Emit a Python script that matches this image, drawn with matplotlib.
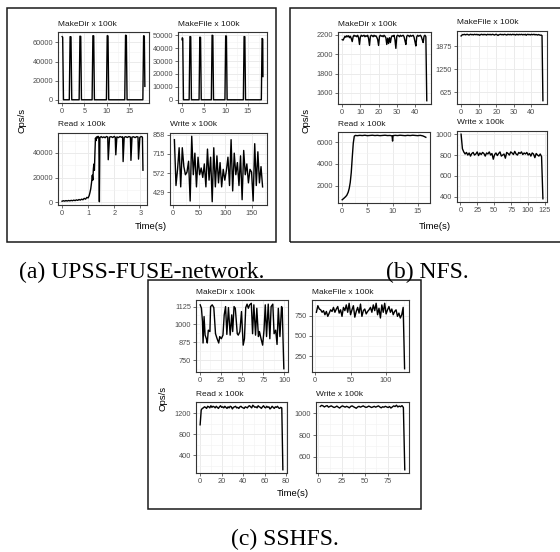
import numpy as np
import matplotlib
matplotlib.use("Agg")
import matplotlib.pyplot as plt
from matplotlib.patches import Rectangle
from matplotlib.ticker import AutoMinorLocator

plt.rcParams['font.family'] = ['Liberation Sans', 'DejaVu Sans']

# ---------------- data: (a) UPSS-FUSE-network ----------------
a_mkdir_t = [0.0, 0.12, 0.3, 1.6, 1.78, 1.98, 2.15, 3.8, 3.98, 4.16, 4.32, 6.7, 6.88, 7.06, 7.22,
             9.9, 10.08, 10.26, 10.42, 14.0, 14.18, 14.36, 14.52, 18.05, 18.22, 18.38, 18.5]
a_mkdir_v = [66000, 65500, 0, 0, 66000, 65800, 0, 0, 66500, 66300, 0, 0, 67000, 66800, 0,
             0, 67000, 66700, 0, 0, 67500, 67200, 0, 0, 67000, 66500, 14000]

a_mkfile_t = [0.0, 0.06, 0.16, 0.32, 1.62, 1.8, 1.98, 2.14, 3.88, 4.05, 4.22, 4.38, 6.68, 6.85,
              7.02, 7.18, 9.78, 9.95, 10.12, 10.28, 13.98, 14.15, 14.32, 14.48, 18.08, 18.25, 18.4, 18.45]
a_mkfile_v = [46500, 48000, 47500, 0, 0, 49000, 48800, 0, 0, 48500, 48300, 0, 0, 50000,
              49800, 0, 0, 49500, 49300, 0, 0, 49000, 48800, 0, 0, 47500, 47000, 18000]

a_read_t = [0.0, 0.05, 0.1, 0.15, 0.2, 0.25, 0.3, 0.35, 0.4, 0.45, 0.5, 0.55, 0.6, 0.65, 0.7,
            0.75, 0.8, 0.85, 0.9, 0.95, 1.0, 1.04, 1.07, 1.1, 1.13, 1.16, 1.18, 1.2, 1.22, 1.24,
            1.26, 1.28, 1.3, 1.32, 1.35, 1.38, 1.41, 1.43, 1.45, 1.5, 1.55, 1.6, 1.65, 1.7, 1.75,
            1.77, 1.82, 1.88, 1.94, 2.0, 2.04, 2.06, 2.1, 2.16, 2.22, 2.28, 2.32, 2.34, 2.38, 2.44,
            2.5, 2.56, 2.62, 2.64, 2.68, 2.74, 2.8, 2.86, 2.91, 2.93, 2.98, 3.04, 3.08, 3.1]
a_read_v = [900, 1300, 1000, 1400, 1100, 1500, 1200, 1600, 1300, 1800, 1400, 2000, 1600, 2300, 1800,
            2600, 2100, 3200, 2600, 4000, 3600, 5500, 8000, 11000, 16000, 22000, 18000, 27000, 31000, 26000,
            40000, 52000, 50000, 53000, 52000, 53500, 52500, 500, 52500, 53200, 52400, 53000, 52300, 53300, 52900,
            34500, 52800, 53200, 52500, 53400, 52600, 38500, 53000, 52400, 53300, 52700, 53100, 33000, 52600, 53200,
            52500, 53300, 52800, 34000, 52800, 53100, 52400, 53200, 52900, 35000, 52700, 53300, 52800, 26000]

a_write_t = np.arange(3, 172, 3)
a_write_v = [820, 480, 600, 760, 470, 760, 620, 560, 580, 660, 365, 845, 560, 720, 470, 690, 560, 610,
             540, 640, 470, 750, 520, 690, 360, 760, 470, 700, 500, 650, 470, 600, 520, 590, 690, 480,
             820, 440, 720, 560, 650, 480, 700, 375, 740, 560, 640, 500, 600, 580, 365, 790, 480, 730,
             500, 620, 470]

# ---------------- data: (b) NFS ----------------
b_mkdir_t = np.arange(0, 47, 0.5)
b_mkdir_v = [2150, 2145, 2165, 2185, 2175, 2190, 2180, 2190, 2170, 2185, 2160, 2130, 2180, 2195, 2185,
             2190, 2180, 2195, 2170, 2100, 2180, 2195, 2185, 2190, 2195, 2180, 2190, 2185, 2195, 2160,
             2090, 2185, 2195, 2190, 2180, 2195, 2185, 2190, 2175, 2150, 2090, 2185, 2195, 2185, 2190,
             2180, 2195, 2185, 2170, 2100, 2165, 2110, 2170, 2120, 2175, 2190, 2185, 2195, 2150, 2060,
             2185, 2195, 2190, 2180, 2195, 2185, 2190, 2195, 2180, 2140, 2100, 2185, 2195, 2190, 2180,
             2195, 2185, 2190, 2195, 2175, 2130, 2085, 2180, 2195, 2185, 2190, 2195, 2180, 2150, 2120,
             2185, 2195, 2180, 1520]

b_mkfile_t = np.arange(0, 47, 0.5)
b_mkfile_v = [2150, 2175, 2190, 2185, 2195, 2180, 2190, 2195, 2185, 2175, 2190, 2195, 2185, 2190, 2180,
              2195, 2190, 2185, 2195, 2180, 2190, 2170, 2185, 2195, 2190, 2180, 2195, 2185, 2190, 2175,
              2195, 2190, 2185, 2195, 2180, 2190, 2195, 2185, 2175, 2190, 2195, 2180, 2165, 2185, 2190,
              2195, 2185, 2190, 2180, 2195, 2190, 2185, 2175, 2195, 2190, 2185, 2195, 2180, 2190, 2195,
              2185, 2190, 2175, 2195, 2190, 2180, 2195, 2185, 2190, 2195, 2180, 2190, 2185, 2195, 2170,
              2190, 2195, 2185, 2190, 2180, 2195, 2185, 2190, 2195, 2180, 2190, 2185, 2175, 2190, 2180,
              2170, 2175, 2160, 390]

b_read_t = [0.0, 0.3, 0.6, 0.9, 1.2, 1.4, 1.6, 1.8, 2.0, 2.2, 2.4, 2.6, 3.0, 3.5, 4.0, 4.5, 5.0, 5.5,
            6.0, 6.5, 7.0, 7.5, 8.0, 8.5, 9.0, 9.5, 9.9, 10.0, 10.1, 10.5, 11.0, 11.5, 12.0, 12.5, 13.0,
            13.5, 14.0, 14.5, 15.0, 15.5, 16.0, 16.3, 16.6]
b_read_v = [700, 820, 950, 1100, 1400, 1750, 2300, 3200, 4600, 5900, 6550, 6620, 6600, 6630, 6610, 6640,
            6600, 6620, 6640, 6610, 6630, 6600, 6620, 6640, 6610, 6620, 6580, 6100, 6600, 6630, 6610,
            6640, 6620, 6600, 6630, 6610, 6640, 6620, 6600, 6630, 6580, 6520, 6450]

b_write_t = np.linspace(1, 122, 62)
b_write_v = [1000, 860, 830, 810, 825, 800, 820, 790, 815, 825, 800, 810, 830, 795, 820, 805, 825, 815,
             790, 820, 810, 830, 800, 815, 760, 805, 820, 795, 815, 830, 790, 800, 810, 770, 825, 815,
             800, 830, 820, 805, 835, 810, 800, 825, 815, 830, 805, 820, 810, 825, 800, 815, 790, 820,
             810, 775, 815, 800, 790, 810, 785, 380]

# ---------------- data: (c) SSHFS ----------------
c_mkdir_t = [0.4, 1.9, 3.1, 3.8, 5.0, 6.2, 7.7, 8.8, 10.0, 11.9, 12.7, 14.6, 16.5, 18.5, 20.4, 22.3,
             23.5, 25.4, 27.3, 28.8, 30.4, 31.9, 33.8, 35.8, 37.7, 38.8, 40.4, 41.9, 44.2, 45.4, 47.3,
             49.2, 51.2, 52.7, 54.2, 55.8, 57.3, 58.8, 60.8, 62.3, 63.8, 65.8, 67.3, 69.2, 70.4, 72.3,
             74.2, 75.8, 77.3, 78.8, 80.8, 82.7, 84.2, 86.2, 87.7, 89.6, 91.2, 92.7, 94.6, 96.5, 97.3, 99.2]
c_mkdir_v = [1137, 1113, 1020, 870, 1055, 925, 900, 870, 960, 950, 1125, 1137, 1118, 935, 900, 870,
             915, 900, 925, 1067, 1125, 930, 1118, 925, 1067, 950, 1125, 1113, 935, 925, 950,
             1090, 855, 900, 1118, 1142, 1113, 1137, 1148, 935, 1137, 925, 1113, 915, 950, 900,
             855, 960, 1137, 915, 1142, 900, 1125, 1142, 935, 960, 860, 1113, 915, 1125, 1113, 690]

c_mkfile_t = np.arange(2, 127, 2)
c_mkfile_v = [790, 870, 830, 820, 790, 810, 760, 800, 740, 780, 820, 800, 850, 790, 830, 860, 780, 820,
              740, 850, 810, 880, 790, 900, 760, 820, 870, 730, 800, 850, 780, 890, 740, 810, 830, 770,
              800, 820, 850, 790, 880, 810, 900, 760, 840, 720, 880, 790, 900, 770, 820, 860, 790, 830,
              760, 800, 820, 740, 780, 720, 760, 850, 100]

c_read_t = np.arange(0, 78)
c_read_v = [980, 1260, 1290, 1300, 1320, 1310, 1290, 1330, 1320, 1300, 1340, 1310, 1330, 1320, 1300,
            1330, 1310, 1290, 1320, 1340, 1310, 1320, 1300, 1330, 1310, 1290, 1320, 1300, 1330, 1320,
            1280, 1310, 1320, 1330, 1300, 1310, 1290, 1320, 1330, 1310, 1300, 1290, 1320, 1310, 1300,
            1330, 1340, 1320, 1300, 1350, 1330, 1310, 1320, 1300, 1340, 1320, 1310, 1290, 1320, 1340,
            1310, 1300, 1330, 1310, 1320, 1280, 1300, 1330, 1310, 1290, 1320, 1310, 1330, 1300, 1290,
            1310, 1300, 130]

c_write_t = np.linspace(2, 93, 62)
c_write_v = [1065, 1075, 1070, 1060, 1068, 1072, 1058, 1065, 1070, 1062, 1055, 1060, 1068, 1058, 1050,
             1062, 1070, 1064, 1058, 1066, 1060, 1052, 1065, 1070, 1062, 1055, 1048, 1060, 1066, 1058,
             1064, 1070, 1062, 1056, 1060, 1068, 1062, 1055, 1060, 1066, 1058, 1064, 1070, 1060, 1052,
             1062, 1058, 1066, 1060, 1055, 1064, 1050, 1060, 1070, 1064, 1076, 1060, 1068, 1062, 1072,
             1055, 480]

W, H = 560, 552
fig = plt.figure(figsize=(W / 100, H / 100), dpi=100)


def px_text(x, y, s, **kw):
    fig.text(x / W, 1 - y / H, s, **kw)


def panel(box, t, v, title, xticks, yticks):
    l, top, r, b = box
    ax = fig.add_axes([l / W, 1 - b / H, (r - l) / W, (b - top) / H])
    ax.plot(t, v, color='black', lw=1.0)
    t = np.asarray(t, float)
    v = np.asarray(v, float)
    xr = t.max() - t.min()
    yr = v.max() - v.min()
    ax.set_xticks(xticks)
    ax.set_yticks(yticks)
    ax.set_xlim(t.min() - 0.05 * xr, t.max() + 0.05 * xr)
    ax.set_ylim(v.min() - 0.05 * yr, v.max() + 0.05 * yr)
    ax.xaxis.set_minor_locator(AutoMinorLocator(2))
    ax.yaxis.set_minor_locator(AutoMinorLocator(2))
    ax.grid(which='major', color='#EBEBEB', lw=0.7)
    ax.grid(which='minor', color='#F2F2F2', lw=0.4)
    ax.set_axisbelow(True)
    for sp in ax.spines.values():
        sp.set_color('#333333')
        sp.set_linewidth(0.8)
    ax.tick_params(which='major', length=2, width=0.5, color='#333333',
                   labelsize=5.3, labelcolor='#4D4D4D', pad=1.5)
    ax.tick_params(which='minor', length=0)
    px_text(l, top - 8, title, fontsize=6, color='#1A1A1A', va='center', ha='left')
    return ax


# (a)
panel((58, 32, 149, 103), a_mkdir_t, a_mkdir_v, 'MakeDir x 100k', [0, 5, 10, 15], [0, 20000, 40000, 60000])
panel((178, 32, 267, 103), a_mkfile_t, a_mkfile_v, 'MakeFile x 100k', [0, 5, 10, 15],
      [0, 10000, 20000, 30000, 40000, 50000])
panel((58, 133, 147, 205), a_read_t, a_read_v, 'Read x 100k', [0, 1, 2, 3], [0, 20000, 40000])
panel((170, 133, 267, 205), a_write_t, a_write_v, 'Write x 100k', [0, 50, 100, 150], [429, 572, 715, 858])
px_text(22, 120, 'Ops/s', fontsize=6.8, rotation=90, ha='center', va='center')
px_text(151, 227, 'Time(s)', fontsize=6.8, ha='center', va='center')

# (b)
panel((338, 32, 431, 104), b_mkdir_t, b_mkdir_v, 'MakeDir x 100k', [0, 10, 20, 30, 40], [1600, 1800, 2000, 2200])
panel((457, 31, 547, 104), b_mkfile_t, b_mkfile_v, 'MakeFile x 100k', [0, 10, 20, 30, 40], [625, 1250, 1875])
panel((338, 132, 430, 203), b_read_t, b_read_v, 'Read x 100k', [0, 5, 10, 15], [2000, 4000, 6000])
panel((457, 131, 547, 202), b_write_t, b_write_v, 'Write x 100k', [0, 25, 50, 75, 100, 125],
      [400, 600, 800, 1000])
px_text(306, 120, 'Ops/s', fontsize=6.8, rotation=90, ha='center', va='center')
px_text(435, 227, 'Time(s)', fontsize=6.8, ha='center', va='center')

# (c)
panel((196, 300, 288, 372), c_mkdir_t, c_mkdir_v, 'MakeDir x 100k', [0, 25, 50, 75, 100], [750, 875, 1000, 1125])
panel((312, 300, 409, 372), c_mkfile_t, c_mkfile_v, 'MakeFile x 100k', [0, 50, 100], [250, 500, 750])
panel((196, 402, 287, 473), c_read_t, c_read_v, 'Read x 100k', [0, 20, 40, 60, 80], [400, 800, 1200])
panel((316, 402, 409, 473), c_write_t, c_write_v, 'Write x 100k', [0, 25, 50, 75], [600, 800, 1000])
px_text(163, 398, 'Ops/s', fontsize=6.8, rotation=90, ha='center', va='center')
px_text(293, 493, 'Time(s)', fontsize=6.8, ha='center', va='center')

# frames round each sub-figure
for (l, t, r, b) in [(7, 8, 276, 242), (290, 8, 566, 242), (148, 280, 421, 509)]:
    fig.add_artist(Rectangle((l / W, 1 - b / H), (r - l) / W, (b - t) / H, transform=fig.transFigure,
                             fill=False, edgecolor='#1A1A1A', lw=1.1))

# captions
cap = dict(fontsize=17, family=['Liberation Serif', 'DejaVu Serif'], ha='center', va='baseline')
px_text(142, 278, '(a) UPSS-FUSE-network.', **cap)
px_text(427, 278, '(b) NFS.', **cap)
px_text(285, 545, '(c) SSHFS.', **cap)

fig.savefig('out.png', dpi=100)
